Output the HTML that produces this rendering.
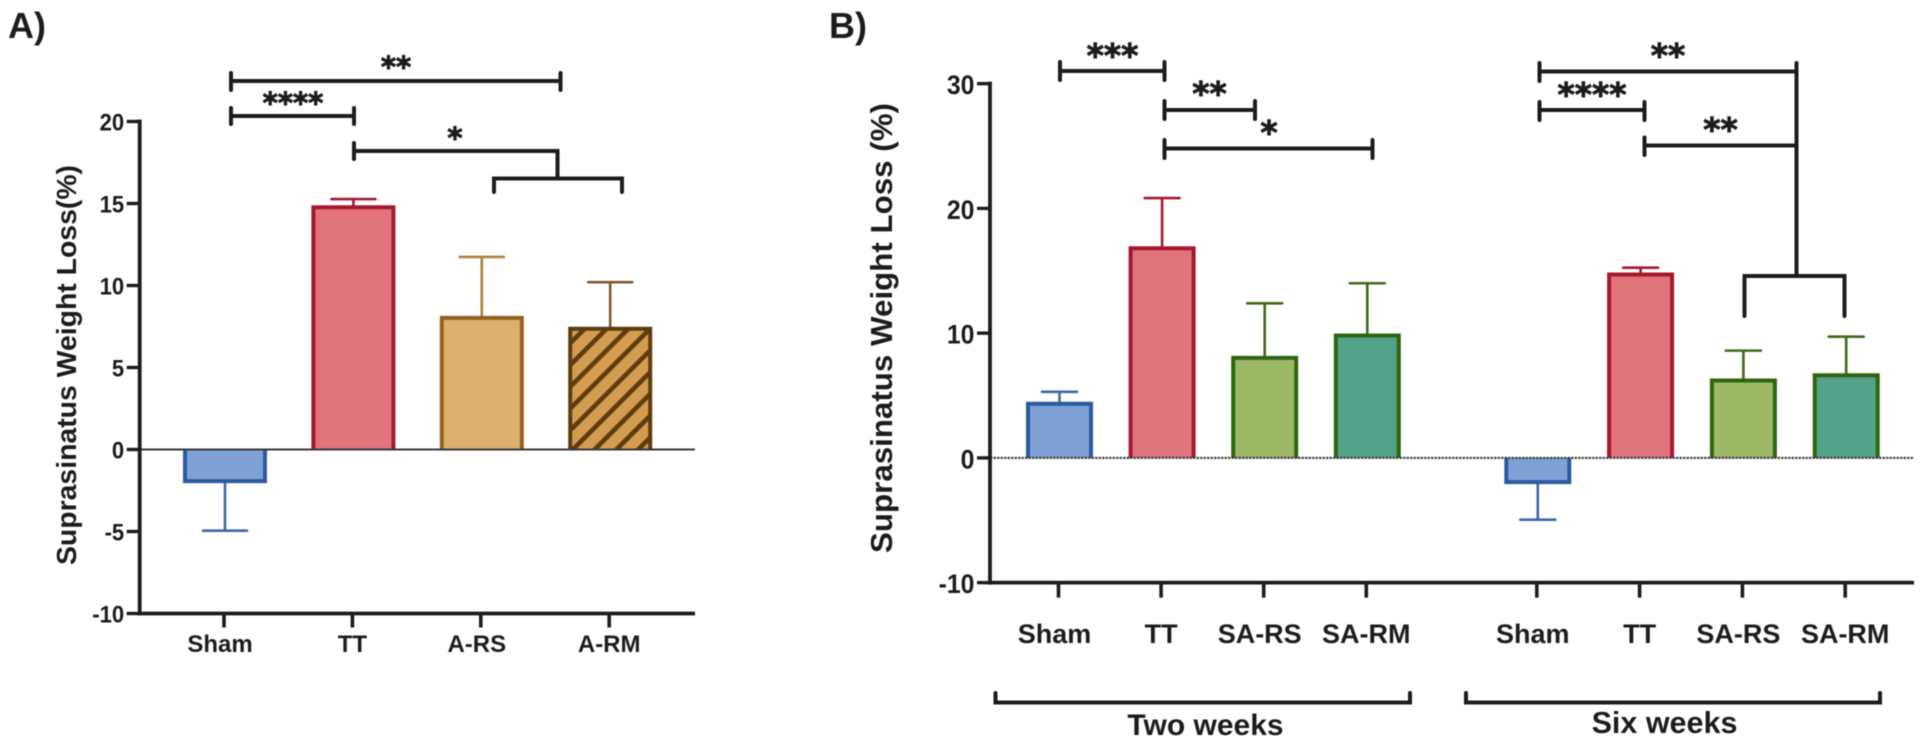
<!DOCTYPE html>
<html lang="en">
<head>
<meta charset="utf-8">
<title>Suprasinatus Weight Loss</title>
<style>
html,body{margin:0;padding:0;background:#fff;width:1920px;height:749px;overflow:hidden}
svg{display:block;filter:blur(.45px)}
text{font-family:"Liberation Sans",Arial,sans-serif;font-weight:700;fill:#1c1c1c}
.star{font-family:"DejaVu Sans",sans-serif;font-weight:700;text-anchor:middle;stroke:#1c1c1c;stroke-width:.9}
.sig{fill:none;stroke:#1c1c1c;stroke-width:4;stroke-linecap:round;stroke-linejoin:miter}
</style>
</head>
<body>
<svg id="figure" xmlns="http://www.w3.org/2000/svg" width="1920" height="749" viewBox="0 0 1920 749">
  <defs>
    <pattern id="hatch" patternUnits="userSpaceOnUse" width="15.4" height="15.4" patternTransform="translate(604 328) rotate(45)">
      <rect width="15.4" height="15.4" fill="#D49C50"></rect>
      <rect width="4.6" height="15.4" fill="#5E3B0D"></rect>
    </pattern>
  </defs>
  <g id="panel-a">
    <text x="8" y="38" font-size="36">A)</text>
    <text transform="translate(75.8 565) rotate(-90)" font-size="28" textLength="400" lengthAdjust="spacingAndGlyphs">Suprasinatus Weight Loss(%)</text>
    <g id="a-marks"></g>
    <g>
      <path class="sig" d="M231 73V90M231 81H560.5M560.5 73V90"></path>
      <text class="star" x="396" y="77" font-size="29">**</text>
      <path class="sig" d="M231 108V124M231 116H354M354 108V124"></path>
      <text class="star" x="293" y="113" font-size="29">****</text>
      <path class="sig" d="M354 143V159M354 151H557.5V178.5"></path>
      <text class="star" x="455" y="148" font-size="29">*</text>
      <path class="sig" d="M494 192V178.5H622V192"></path>
    </g>
  </g>
  <g id="panel-b">
    <text x="829" y="38" font-size="36">B)</text>
    <text transform="translate(891.8 553) rotate(-90)" font-size="31" textLength="450" lengthAdjust="spacingAndGlyphs">Suprasinatus Weight Loss (%)</text>
    <g id="b-marks"></g>
    <g>
      <path class="sig" d="M1060 62V80M1060 71H1164.5M1164.5 62V80"></path>
      <text class="star" x="1112.5" y="67" font-size="33">***</text>
      <path class="sig" d="M1164.5 101V119M1164.5 110H1255M1255 101V119"></path>
      <text class="star" x="1209.5" y="105" font-size="33">**</text>
      <path class="sig" d="M1164.5 140V158M1164.5 148.5H1372.5M1372.5 140V158"></path>
      <text class="star" x="1269" y="144" font-size="33">*</text>
      <path class="sig" d="M1539.5 63V81M1539.5 71.5H1796.5M1796.5 63V276"></path>
      <text class="star" x="1668" y="67" font-size="33">**</text>
      <path class="sig" d="M1539.5 102V120M1539.5 110H1644.5M1644.5 102V120"></path>
      <text class="star" x="1592" y="106" font-size="33">****</text>
      <path class="sig" d="M1644.5 137.5V155M1644.5 145.5H1796.5"></path>
      <text class="star" x="1720.5" y="141" font-size="33">**</text>
      <path class="sig" d="M1744.5 316V276H1844.5V316"></path>
      <path class="sig" d="M995.5 693V702.5H1410V693"></path>
      <text x="1205.5" y="735" font-size="30" text-anchor="middle">Two weeks</text>
      <path class="sig" d="M1466 693V702.5H1880V693"></path>
      <text x="1664.5" y="733" font-size="30.5" text-anchor="middle">Six weeks</text>
    </g>
  </g>
</svg>
<script>
const aCategories = ['Sham', 'TT', 'A-RS', 'A-RM'];
const aMeans = [-1.9, 14.8, 8.06, 7.39];
const aErrorEnds = [-4.95, 15.27, 11.74, 10.2];
const aTicks = [20, 15, 10, 5, 0, -5, -10];

const bCategories = ['Sham', 'TT', 'SA-RS', 'SA-RM', 'Sham', 'TT', 'SA-RS', 'SA-RM'];
const bMeans = [4.38, 16.85, 8.06, 9.85, -1.9, 14.74, 6.24, 6.67];
const bErrorEnds = [5.3, 20.83, 12.39, 14.0, -4.95, 15.25, 8.6, 9.72];
const bTicks = [30, 20, 10, 0, -10];

const palette = {
  'Sham': {fill: '#7FA2D6', stroke: '#2C5AA0', err: '#3E66A8'},
  'TT': {fill: '#E0737B', stroke: '#A5192F', err: '#A5192F'},
  'A-RS': {fill: '#DDAF6E', stroke: '#94621F', err: '#B0803A'},
  'A-RM': {fill: 'url(#hatch)', stroke: '#5E3B0D', err: '#7A5A30'},
  'SA-RS': {fill: '#9DB865', stroke: '#2F6510', err: '#3E6B1A'},
  'SA-RM': {fill: '#53A28A', stroke: '#2F6510', err: '#3E6B1A'}
};

const NS = 'http://www.w3.org/2000/svg';
function make(parent, tag, attrs) {
  const el = document.createElementNS(NS, tag);
  for (const k in attrs) el.setAttribute(k, attrs[k]);
  parent.appendChild(el);
  return el;
}
function aY(v) { return 449.5 - 16.4 * v; }
function aX(i) { return 225 + 128.4 * i; }
function bY(v) { return 457.9 - 12.475 * v; }
function bX(i) { return i < 4 ? 1059.5 + 102.6 * i : 1537.8 + 102.8 * (i - 4); }

function drawPanel(root, prefix, cfg) {
  const y = cfg.y, x = cfg.x;
  cfg.categories.forEach(function (cat, i) {
    const st = palette[cat];
    const cx = x(i);
    const half = cfg.barWidth / 2;
    const m = cfg.means[i];
    const e = cfg.errors[i];
    const line = make(root, 'line', {x1: cx, x2: cx, y1: y(m), y2: y(e), stroke: st.err, 'stroke-width': 2.6});
    
    
    const cap = make(root, 'line', {x1: cx - cfg.capWidth / 2, x2: cx + cfg.capWidth / 2, y1: y(e), y2: y(e), stroke: st.err, 'stroke-width': 2.6, 'stroke-linecap': 'round'});
    
    
    const edge = y(m) + 0.5;
    const left = cx - half + 2;
    const right = cx + half - 2;
    const bar = make(root, 'path', {d: 'M' + left + ' ' + y(0) + 'V' + edge + 'H' + right + 'V' + y(0), fill: st.fill, stroke: st.stroke, 'stroke-width': 4});
    
    
    const tick = make(root, 'line', {x1: cx - 1, x2: cx - 1, y1: y(cfg.axisMin), y2: y(cfg.axisMin) + cfg.tickLen, stroke: '#1c1c1c', 'stroke-width': 3.6});
    
    
    const nudge = (cat === 'Sham' || cat === 'SA-RS' || cat === 'A-RS') ? -4 : 0;
    const label = make(root, 'text', {x: cx - 1 + nudge, y: cfg.labelY, 'font-size': cfg.labelSize, 'text-anchor': 'middle'});
    
    
    label.textContent = cat;
  });
  const zero = make(root, 'line', {x1: cfg.axisX, x2: cfg.axisEnd, y1: y(0), y2: y(0), stroke: '#3a3a3a', 'stroke-width': 2, 'stroke-dasharray': cfg.zeroDash});
  
  
  const yAxis = make(root, 'line', {x1: cfg.axisX, x2: cfg.axisX, y1: y(cfg.axisMax) - 2, y2: y(cfg.axisMin) + 2, stroke: '#1c1c1c', 'stroke-width': 3.8});
  
  
  const xAxis = make(root, 'line', {x1: cfg.axisX - 2, x2: cfg.axisEnd, y1: y(cfg.axisMin), y2: y(cfg.axisMin), stroke: '#1c1c1c', 'stroke-width': 3.8});
  
  
  cfg.ticks.forEach(function (t) {
    const tk = make(root, 'line', {x1: cfg.axisX - cfg.yTickLen, x2: cfg.axisX, y1: y(t), y2: y(t), stroke: '#1c1c1c', 'stroke-width': 3.4});
    
    
    const lab = make(root, 'text', {transform: 'translate(' + (cfg.axisX - cfg.yTickLen - 2.5) + ' ' + (y(t) + cfg.tickLabelDy) + ') scale(.92 1)', 'font-size': cfg.tickLabelSize, 'text-anchor': 'end'});
    
    
    lab.textContent = String(t);
  });
}

drawPanel(document.getElementById('a-marks'), 'a', {
  categories: aCategories, means: aMeans, errors: aErrorEnds, ticks: aTicks,
  x: aX, y: aY, barWidth: 84, capWidth: 44, axisX: 139.7, axisEnd: 695, axisMin: -10, axisMax: 20,
  tickLen: 14, yTickLen: 13, labelY: 652, labelSize: 24, tickLabelSize: 24, tickLabelDy: 9, zeroDash: 'none'
});
drawPanel(document.getElementById('b-marks'), 'b', {
  categories: bCategories, means: bMeans, errors: bErrorEnds, ticks: bTicks,
  x: bX, y: bY, barWidth: 67, capWidth: 35, axisX: 990, axisEnd: 1914, axisMin: -10, axisMax: 30,
  tickLen: 15, yTickLen: 13, labelY: 643, labelSize: 27, tickLabelSize: 27, tickLabelDy: 10.5, zeroDash: '2.5 1'
});
</script>
</body>
</html>
